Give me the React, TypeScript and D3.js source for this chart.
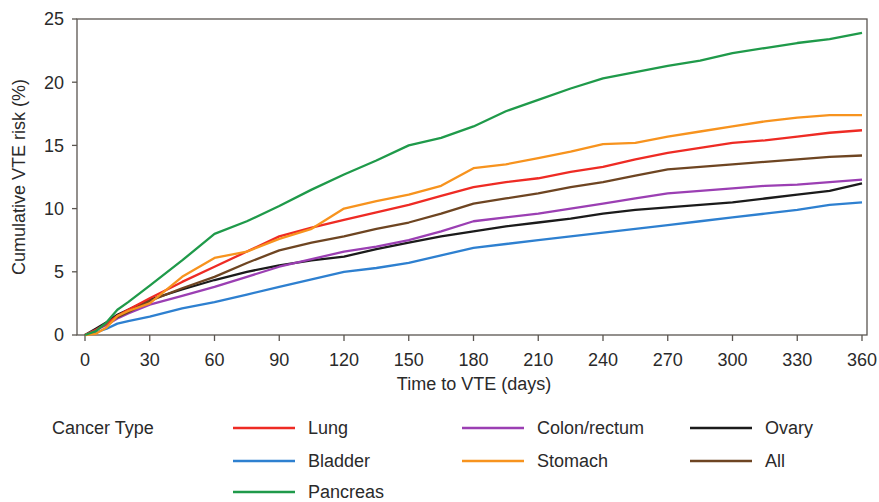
import React from "react";
import * as d3 from "d3";

const days = [0, 5, 10, 15, 20, 30, 45, 60, 75, 90, 105, 120, 135, 150, 165, 180, 195, 210, 225, 240, 255, 270, 285, 300, 315, 330, 345, 360];

const pancreas = [0, 0.3, 1.0, 2.0, 2.6, 3.9, 5.9, 8.0, 9.0, 10.2, 11.5, 12.7, 13.8, 15.0, 15.6, 16.5, 17.7, 18.6, 19.5, 20.3, 20.8, 21.3, 21.7, 22.3, 22.7, 23.1, 23.4, 23.9];
const stomach = [0, 0.1, 0.6, 1.5, 1.9, 2.5, 4.6, 6.1, 6.6, 7.6, 8.4, 10.0, 10.6, 11.1, 11.8, 13.2, 13.5, 14.0, 14.5, 15.1, 15.2, 15.7, 16.1, 16.5, 16.9, 17.2, 17.4, 17.4];
const lung = [0, 0.4, 0.9, 1.5, 2.0, 2.9, 4.2, 5.4, 6.6, 7.8, 8.5, 9.1, 9.7, 10.3, 11.0, 11.7, 12.1, 12.4, 12.9, 13.3, 13.9, 14.4, 14.8, 15.2, 15.4, 15.7, 16.0, 16.2];
const all = [0, 0.4, 0.9, 1.4, 1.8, 2.7, 3.7, 4.6, 5.7, 6.7, 7.3, 7.8, 8.4, 8.9, 9.6, 10.4, 10.8, 11.2, 11.7, 12.1, 12.6, 13.1, 13.3, 13.5, 13.7, 13.9, 14.1, 14.2];
const colon = [0, 0.4, 0.8, 1.3, 1.7, 2.4, 3.1, 3.8, 4.6, 5.4, 6.0, 6.6, 7.0, 7.5, 8.2, 9.0, 9.3, 9.6, 10.0, 10.4, 10.8, 11.2, 11.4, 11.6, 11.8, 11.9, 12.1, 12.3];
const ovary = [0, 0.5, 1.0, 1.6, 2.0, 2.8, 3.6, 4.35, 5.0, 5.5, 5.9, 6.2, 6.8, 7.3, 7.8, 8.2, 8.6, 8.9, 9.2, 9.6, 9.9, 10.1, 10.3, 10.5, 10.8, 11.1, 11.4, 12.0];
const bladder = [0, 0.2, 0.5, 0.9, 1.1, 1.45, 2.1, 2.6, 3.2, 3.8, 4.4, 5.0, 5.3, 5.7, 6.3, 6.9, 7.2, 7.5, 7.8, 8.1, 8.4, 8.7, 9.0, 9.3, 9.6, 9.9, 10.3, 10.5];

const seriesNames = ["Lung", "Bladder", "Pancreas", "Colon/rectum", "Stomach", "Ovary", "All"];
const seriesValues = [lung, bladder, pancreas, colon, stomach, ovary, all];
const seriesColors = ["#ee2b24", "#2e80d0", "#1f9a4a", "#9b3fb3", "#f7931e", "#1b1b1b", "#6e4522"];
const drawOrder = [1, 5, 3, 6, 0, 4, 2];

const xTicks = [0, 30, 60, 90, 120, 150, 180, 210, 240, 270, 300, 330, 360];
const yTicks = [0, 5, 10, 15, 20, 25];

export default function App() {
  const W = 879, H = 502;
  const boxL = 77, boxR = 867, boxT = 19, boxB = 335;
  const x = d3.scaleLinear().domain([0, 360]).range([85, 862]);
  const y = d3.scaleLinear().domain([0, 25]).range([boxB, boxT]);
  const line = d3.line<[number, number]>().x(d => x(d[0])).y(d => y(d[1])).curve(d3.curveLinear);
  const font = "'Liberation Sans', Arial, Helvetica, sans-serif";
  const axisColor = "#5a5550";
  const textColor = "#2a2a2a";
  const fs = 18;

  const legendCols = [233, 462, 690];
  const legendRows = [428, 461, 492];
  const legendPos = [[0, 0], [0, 1], [0, 2], [1, 0], [1, 1], [2, 0], [2, 1]];

  return (
    <div style={{ position: "absolute", left: 0, top: 0 }}>
      <svg width={W} height={H} style={{ display: "block", background: "#fff" }} fontFamily={font}>
        <rect x={boxL} y={boxT} width={boxR - boxL} height={boxB - boxT} fill="none" stroke={axisColor} strokeWidth={1.3} />
        {yTicks.map(t => (
          <g key={"y" + t}>
            <line x1={boxL - 5} x2={boxL} y1={y(t)} y2={y(t)} stroke={axisColor} strokeWidth={1.3} />
            <text x={64} y={y(t)} dy="0.35em" textAnchor="end" fontSize={fs} fill={textColor}>{t}</text>
          </g>
        ))}
        {xTicks.map(t => (
          <g key={"x" + t}>
            <line x1={x(t)} x2={x(t)} y1={boxB} y2={boxB + 6} stroke={axisColor} strokeWidth={1.3} />
            <text x={x(t)} y={366} textAnchor="middle" fontSize={fs} fill={textColor}>{t}</text>
          </g>
        ))}
        <text x={474} y={390} textAnchor="middle" fontSize={fs} fill={textColor}>Time to VTE (days)</text>
        <text transform={`translate(25, ${(boxT + boxB) / 2}) rotate(-90)`} textAnchor="middle" fontSize={fs} fill={textColor}>Cumulative VTE risk (%)</text>
        {drawOrder.map(i => (
          <path key={seriesNames[i]} d={line(days.map((d, k) => [d, seriesValues[i][k]] as [number, number])) || ""}
            fill="none" stroke={seriesColors[i]} strokeWidth={2.3} strokeLinejoin="round" />
        ))}
        <text x={52} y={legendRows[0]} dy="0.35em" fontSize={fs} fill={textColor}>Cancer Type</text>
        {seriesNames.map((n, i) => {
          const [c, r] = legendPos[i];
          const lx = legendCols[c], ly = legendRows[r];
          return (
            <g key={"lg" + n}>
              <line x1={lx} x2={lx + 62} y1={ly} y2={ly} stroke={seriesColors[i]} strokeWidth={2.3} />
              <text x={lx + 75} y={ly} dy="0.35em" fontSize={fs} fill={textColor}>{n}</text>
            </g>
          );
        })}
      </svg>
    </div>
  );
}
